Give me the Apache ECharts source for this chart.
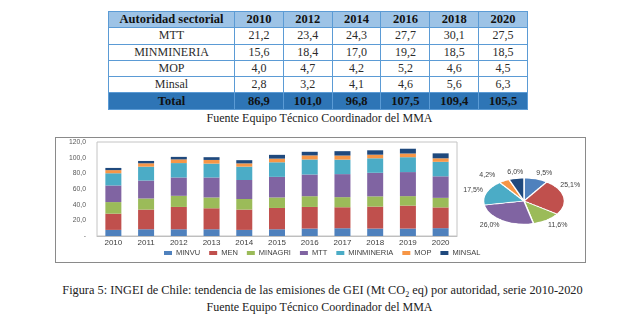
<!DOCTYPE html>
<html><head><meta charset="utf-8">
<script src="https://cdn.jsdelivr.net/npm/echarts@6/dist/echarts.min.js"></script>
<style>
html,body{margin:0;padding:0;background:#fff;}
#wrap{position:relative;width:639px;height:321px;overflow:hidden;font-family:'Liberation Serif','Times New Roman',serif;}
#tbl{position:absolute;left:108px;top:11px;border-collapse:collapse;width:420px;table-layout:fixed;}
#tbl td{border:1px solid #5B9BD5;padding:0;height:15.3px;line-height:15px;text-align:center;font-size:12px;color:#2b2b2b;white-space:nowrap;}
#tbl tr.hd td{background:#9DC3E6;font-weight:bold;color:#111;font-size:12.5px;}
#tbl tr.tot td{background:#2E75B6;font-weight:bold;color:#111;font-size:12.5px;}
.cap{position:absolute;left:0;width:639px;text-align:center;font-size:12px;color:#222;line-height:14px;}
#frame{position:absolute;left:55px;top:137px;width:531px;height:126px;box-sizing:border-box;border:1.5px solid #8a8a8a;}
#main{position:absolute;left:0;top:0;width:639px;height:321px;}
#pie{position:absolute;left:473.5px;top:151px;width:100px;height:100px;transform:scaleY(0.57);transform-origin:50% 50%;}
</style></head>
<body>
<div id="wrap">
  <table id="tbl"><colgroup><col style="width:126px"></colgroup><tbody id="tbody"></tbody></table>
  <div class="cap" style="top:111px;">Fuente Equipo Técnico Coordinador del MMA</div>
  <div id="frame"></div>
  <div class="cap" style="top:283px;left:3px;font-size:12.3px;">Figura 5: INGEI de Chile: tendencia de las emisiones de GEI (Mt CO<sub style="font-size:8px;line-height:0">2</sub> eq) por autoridad, serie 2010-2020</div>
  <div class="cap" style="top:300px;">Fuente Equipo Técnico Coordinador del MMA</div>
  <div id="main"></div>
  <div id="pie"></div>
</div>
<script>
const categories = ['2010','2011','2012','2013','2014','2015','2016','2017','2018','2019','2020'];
const seriesNames = ['MINVU','MEN','MINAGRI','MTT','MINMINERIA','MOP','MINSAL'];
const minvu      = [7.8, 8.6, 8.6, 8.6, 7.8, 8.6, 9.5, 9.9, 9.5, 9.5, 10.0];
const men        = [20.7, 25.1, 28.5, 26.8, 25.9, 27.2, 27.6, 26.8, 28.0, 29.3, 26.5];
const minagri    = [14.8, 14.2, 14.2, 13.8, 13.5, 13.4, 13.7, 12.9, 13.1, 12.1, 12.2];
const mtt        = [21.2, 22.9, 23.4, 25.5, 24.3, 26.3, 27.7, 29.4, 30.1, 30.7, 27.5];
const minmineria = [15.6, 17.7, 18.4, 17.7, 17.0, 18.6, 19.2, 18.5, 18.5, 19.0, 18.5];
const mop        = [4.0, 4.3, 4.7, 4.7, 4.2, 4.7, 5.2, 5.2, 4.6, 4.7, 4.5];
const minsal     = [2.8, 3.0, 3.2, 3.5, 4.1, 4.8, 4.6, 5.6, 5.6, 6.1, 6.3];
const pieShares  = [9.5, 25.1, 11.6, 26.0, 17.5, 4.2, 6.0]; // 2020 shares (%)
const tableYears = ['2010','2012','2014','2016','2018','2020'];
const tableHeader = 'Autoridad sectorial';
const tableRowNames = ['MTT','MINMINERIA','MOP','Minsal'];
const totalLabel = 'Total';
const colors = ['#4F81BD','#C0504D','#9BBB59','#8064A2','#4BACC6','#F79646','#1F497D'];

const allSeries = [minvu, men, minagri, mtt, minmineria, mop, minsal];
const tableSeries = [mtt, minmineria, mop, minsal];
const fmt = v => (Math.round(v*10)/10).toFixed(1).replace('.', ',');

// ---- table
(function(){
  const tb = document.getElementById('tbody');
  let html = '<tr class="hd"><td>' + tableHeader + '</td>' + tableYears.map(y => '<td>' + y + '</td>').join('') + '</tr>';
  tableRowNames.forEach((n, r) => {
    html += '<tr><td>' + n + '</td>' + tableYears.map(y => '<td>' + fmt(tableSeries[r][categories.indexOf(y)]) + '</td>').join('') + '</tr>';
  });
  html += '<tr class="tot"><td>' + totalLabel + '</td>' + tableYears.map(y => {
    const i = categories.indexOf(y);
    return '<td>' + fmt(allSeries.reduce((s, a) => s + a[i], 0)) + '</td>';
  }).join('') + '</tr>';
  tb.innerHTML = html;
})();

// ---- charts
const pieCx = 523.5, pieCy = 201, pieR = 40.5, pieK = 0.57;
const pieTotal = pieShares.reduce((a, b) => a + b, 0);
const pieData = seriesNames.map((n, i) => ({name: n, value: pieShares[i]}));
// small label nudges (Excel "best fit" placement)
const labelNudge = {1: [-6, -11], 5: [-7, -1]};

const main = echarts.init(document.getElementById('main'));
main.setOption({
  animation: false,
  color: colors,
  textStyle: {fontFamily: 'Liberation Sans'},
  grid: {left: 97, right: 182, top: 142, bottom: 85, show: true, borderColor: '#c4c4c4', borderWidth: 1},
  legend: {data: seriesNames, left: 164, top: 249, padding: 0, itemWidth: 8, itemHeight: 4, itemGap: 9, icon: 'rect',
    textStyle: {fontSize: 7.5, color: '#404040', padding: [0,0,0,-1]}},
  xAxis: {type: 'category', data: categories, axisTick: {show: false},
    axisLine: {lineStyle: {color: '#bfbfbf'}},
    axisLabel: {fontSize: 8, color: '#404040', margin: 3}},
  yAxis: {type: 'value', min: 0, max: 120, interval: 20, splitLine: {show: false},
    axisLine: {show: false}, axisTick: {show: false},
    axisLabel: {fontSize: 6.8, color: '#595959', margin: 11, formatter: v => v === 0 ? '-' : fmt(v)}},
  series: seriesNames.map((n, i) => ({
    name: n, type: 'bar', stack: 'total', barWidth: 16, data: allSeries[i]
  })).concat([{
    type: 'pie', name: 'labels', center: [pieCx, pieCy], radius: pieR, silent: true, avoidLabelOverlap: false,
    itemStyle: {color: 'rgba(0,0,0,0)'}, labelLine: {show: false},
    label: {show: true, position: 'outside', fontSize: 7, color: '#404040',
      formatter: p => fmt(p.value) + '%'},
    labelLayout: function (p) {
      const i = p.dataIndex;
      let cum = 0;
      for (let k = 0; k < i; k++) cum += pieShares[k];
      const mid = (90 - 360 * (cum + pieShares[i] / 2) / pieTotal) * Math.PI / 180;
      const c = Math.cos(mid), s = Math.sin(mid);
      const nd = labelNudge[i] || [0, 0];
      return {
        x: pieCx + (pieR + 3) * c + nd[0],
        y: pieCy - (pieR * pieK + 6) * s + nd[1],
        align: c > 0.25 ? 'left' : (c < -0.25 ? 'right' : 'center'),
        verticalAlign: 'middle'
      };
    },
    data: pieData
  }])
});

const pie = echarts.init(document.getElementById('pie'));
pie.setOption({
  animation: false,
  color: colors,
  series: [{type: 'pie', center: ['50%', '50%'], radius: pieR, silent: true,
    label: {show: false}, labelLine: {show: false},
    itemStyle: {borderColor: '#fff', borderWidth: 1.5},
    data: pieData}]
});
</script>
</body></html>
